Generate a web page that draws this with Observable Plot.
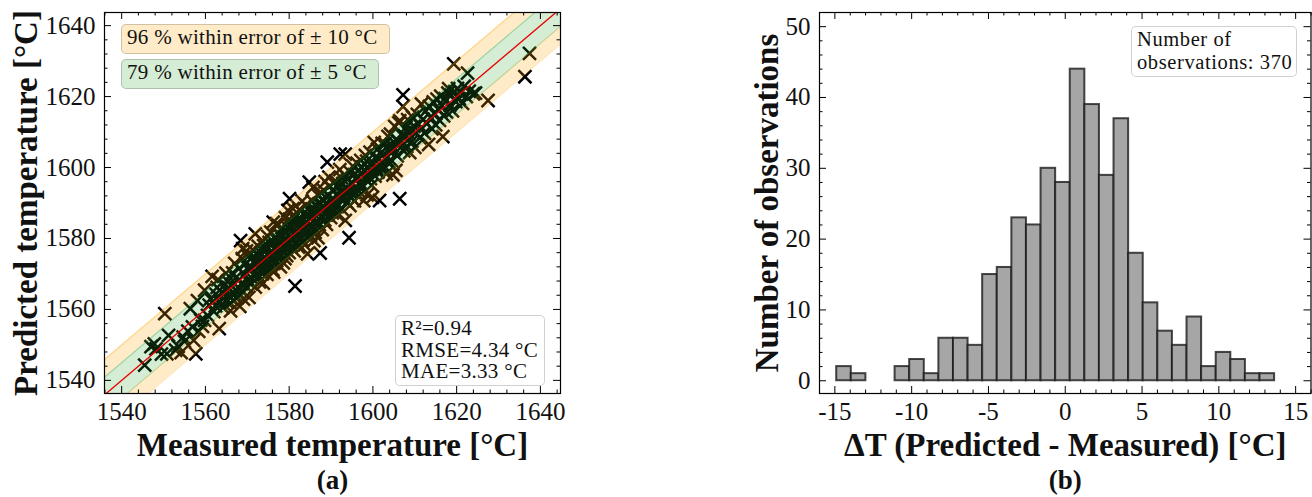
<!DOCTYPE html>
<html>
<head>
<meta charset="utf-8">
<script src="https://cdn.jsdelivr.net/npm/d3@7"></script>
<script src="https://cdn.jsdelivr.net/npm/@observablehq/plot@0.6"></script>
<style>
  body { margin: 0; background: #fff; }
  #fig { position: relative; width: 1312px; height: 497px; overflow: hidden; font-family: "Liberation Serif", serif; color: #111; }
  #fig svg { position: absolute; top: 0; overflow: visible; }
  .box { position: absolute; box-sizing: border-box; border: 1.5px solid rgba(0,0,0,0.18); border-radius: 5px; font-size: 21px; line-height: 21.5px; padding: 3px 0 0 5px; white-space: nowrap; letter-spacing: 0.3px; }
</style>
</head>
<body>
<div id="fig"></div>
<script>
// ---- Panel (a): measured vs predicted temperature, [measured, predicted] in °C ----
const measuredPredicted = [
  [1545.5,1544.3],[1547.8,1550.3],[1548.2,1548.9],[1547.0,1549.5],[1549.5,1547.4],[1550.3,1558.8],[1550.8,1547.5],
  [1551.2,1552.7],[1552.9,1548.5],[1553.5,1549.6],[1554.2,1547.8],[1554.7,1552.2],[1555.0,1551.0],[1555.8,1553.9],
  [1556.4,1560.2],[1556.9,1555.1],[1557.2,1551.3],[1557.7,1547.5],[1558.1,1562.5],[1558.4,1553.8],[1558.9,1557.0],
  [1559.3,1555.2],[1559.8,1565.4],[1559.8,1556.9],[1560.5,1558.3],[1560.9,1561.2],[1561.6,1569.3],[1561.2,1563.0],
  [1562.0,1559.4],[1562.4,1561.0],[1562.8,1566.2],[1563.3,1554.6],[1563.5,1562.1],[1563.9,1564.8],[1564.2,1560.5],
  [1564.6,1566.9],[1565.0,1565.4],[1565.0,1562.3],[1565.3,1568.0],[1565.7,1563.6],[1566.0,1561.8],[1566.2,1566.7],
  [1566.7,1562.5],[1566.5,1570.3],[1566.9,1564.4],[1567.2,1568.9],[1567.4,1563.1],[1567.8,1566.2],[1568.0,1571.5],
  [1568.4,1579.4],[1568.2,1560.9],[1568.6,1567.3],[1568.9,1577.1],[1569.0,1564.8],[1569.3,1569.9],[1569.5,1572.8],
  [1569.7,1566.5],[1570.0,1568.1],[1570.2,1574.9],[1570.4,1563.4],[1570.6,1570.8],[1570.9,1567.2],[1569.8,1576.5],
  [1567.0,1573.0],[1564.9,1570.2],[1563.0,1568.4],[1562.5,1564.3],[1566.0,1559.6],[1568.8,1574.3],[1567.6,1565.0],
  [1565.8,1565.9],[1569.1,1562.9],[1570.3,1572.0],
  [1571.0,1571.9],[1571.2,1568.7],[1571.5,1575.0],[1571.9,1581.3],[1571.9,1566.3],[1572.1,1573.4],[1572.3,1570.1],
  [1572.6,1577.8],[1572.8,1569.3],[1573.0,1572.2],[1573.2,1575.9],[1573.6,1579.4],[1573.6,1570.0],[1573.8,1567.4],
  [1574.0,1574.6],[1574.2,1571.8],[1574.5,1577.0],[1574.7,1569.9],[1574.9,1580.6],[1575.0,1573.3],[1575.3,1575.8],
  [1575.5,1571.6],[1575.7,1578.4],[1576.0,1574.2],[1576.2,1584.6],[1576.3,1570.5],[1576.6,1576.9],[1576.8,1579.8],
  [1577.0,1573.7],[1577.2,1577.5],[1577.5,1581.2],[1577.7,1574.9],[1577.9,1572.0],[1578.1,1578.6],[1578.3,1583.0],
  [1578.5,1576.1],[1578.8,1579.9],[1579.0,1574.3],[1579.2,1581.7],[1579.4,1577.7],[1579.7,1587.9],[1579.8,1579.1],
  [1580.0,1576.0],[1580.1,1591.2],[1580.2,1582.8],[1572.4,1575.5],[1573.4,1573.9],[1574.4,1572.5],[1575.2,1578.9],
  [1576.4,1573.0],[1577.4,1579.2],[1578.4,1580.5],[1579.4,1575.2],[1571.7,1573.2],[1572.9,1567.8],[1574.1,1576.2],
  [1575.9,1576.4],[1576.9,1575.0],[1578.0,1577.2],[1579.1,1585.9],[1577.0,1584.2],[1575.6,1581.8],[1573.9,1578.0],
  [1578.6,1573.1],[1576.1,1571.2],[1580.0,1585.4],[1571.3,1576.8],[1579.6,1583.2],[1577.8,1580.9],[1574.6,1574.0],
  [1580.4,1580.2],[1580.6,1577.9],[1580.8,1584.4],[1581.0,1581.3],[1581.2,1576.5],[1581.4,1566.6],[1581.5,1586.2],
  [1581.7,1582.0],[1581.9,1578.8],[1582.1,1583.7],[1582.2,1577.6],[1582.4,1588.1],[1582.6,1580.4],[1582.8,1585.3],
  [1583.0,1582.1],[1583.2,1579.3],[1583.4,1587.0],[1583.6,1583.8],[1583.8,1581.0],[1584.0,1589.4],[1584.2,1584.6],
  [1584.4,1575.7],[1584.5,1582.4],[1584.8,1595.9],[1584.9,1587.6],[1585.1,1580.9],[1585.3,1585.7],[1585.5,1590.6],
  [1585.7,1594.4],[1585.8,1583.2],[1586.0,1586.9],[1586.2,1581.7],[1586.4,1589.1],[1586.6,1585.0],[1586.8,1592.3],
  [1587.0,1587.4],[1587.2,1583.9],[1587.4,1575.9],[1587.5,1590.0],[1587.7,1586.3],[1587.9,1582.5],[1588.1,1588.7],
  [1588.3,1593.5],[1588.5,1585.2],[1588.7,1589.9],[1588.9,1584.0],[1589.1,1601.5],[1589.2,1587.5],[1589.4,1592.0],
  [1589.5,1597.3],[1589.7,1589.1],[1589.9,1585.9],[1580.3,1583.6],[1581.1,1579.7],[1582.0,1585.0],[1582.9,1583.4],
  [1583.7,1578.2],[1584.6,1586.5],[1585.4,1588.3],[1586.3,1584.1],[1587.1,1589.8],[1588.0,1591.1],[1588.8,1586.8],
  [1589.6,1594.7],[1583.1,1590.5],[1585.9,1579.4],[1587.6,1592.9],[1581.8,1584.8],[1584.1,1583.0],[1586.5,1587.7],
  [1588.4,1587.0],[1582.5,1582.7],[1580.9,1588.4],[1586.9,1580.2],[1588.6,1596.0],
  [1590.1,1590.4],[1590.3,1587.2],[1590.5,1593.8],[1590.7,1591.0],[1590.9,1588.8],[1591.1,1596.2],[1591.3,1592.4],
  [1591.5,1589.0],[1591.7,1594.9],[1591.9,1591.6],[1592.1,1599.4],[1592.2,1603.8],[1592.4,1593.1],[1592.6,1588.3],
  [1592.8,1595.5],[1593.0,1592.0],[1593.2,1597.9],[1593.4,1603.8],[1593.4,1585.1],[1593.6,1594.0],[1593.8,1590.2],
  [1594.0,1596.8],[1594.3,1580.2],[1594.4,1593.3],[1594.6,1598.6],[1594.8,1591.5],[1595.0,1595.3],[1595.2,1600.4],
  [1595.4,1593.0],[1595.6,1590.6],[1595.8,1596.9],[1596.0,1594.1],[1596.2,1601.2],[1596.5,1597.4],[1596.7,1591.9],
  [1596.9,1595.8],[1597.1,1602.0],[1597.3,1598.5],[1597.5,1594.4],[1597.8,1590.7],[1598.0,1599.1],[1598.2,1603.4],
  [1598.4,1596.5],[1598.6,1592.3],[1598.8,1600.2],[1599.0,1597.4],[1599.3,1604.3],[1599.5,1598.9],[1599.7,1595.0],
  [1599.9,1591.6],[1590.6,1595.7],[1591.6,1586.6],[1592.5,1597.1],[1593.5,1592.8],[1594.5,1589.3],[1595.5,1598.0],
  [1596.4,1593.6],[1597.4,1600.1],[1598.5,1601.8],[1599.4,1596.9],
  [1600.1,1601.2],[1600.3,1607.1],[1600.5,1597.6],[1600.7,1603.0],[1600.9,1599.8],[1601.1,1605.2],[1601.2,1598.7],
  [1601.4,1602.5],[1601.6,1590.7],[1601.8,1604.0],[1602.0,1600.3],[1602.2,1606.8],[1602.4,1603.5],[1602.6,1599.5],
  [1602.9,1606.7],[1603.0,1602.4],[1603.2,1598.2],[1603.4,1605.9],[1603.6,1608.8],[1603.8,1601.7],[1604.0,1604.5],
  [1604.2,1609.4],[1604.4,1602.0],[1604.6,1606.2],[1604.8,1597.9],[1605.0,1605.0],[1605.2,1611.6],[1605.5,1599.2],
  [1605.6,1608.0],[1605.8,1603.3],[1606.0,1607.4],[1606.2,1612.6],[1606.4,1591.2],[1606.4,1613.2],[1606.6,1605.6],
  [1606.9,1609.1],[1607.2,1620.5],[1607.2,1617.2],[1607.4,1604.7],[1607.6,1608.9],[1607.9,1611.3],[1608.1,1606.0],
  [1608.3,1613.5],[1608.6,1609.6],[1608.8,1604.2],[1609.0,1610.9],[1609.3,1607.4],[1609.5,1614.2],[1609.8,1611.6],
  [1610.0,1605.7],[1610.3,1609.8],[1610.6,1615.0],[1610.9,1612.2],[1611.2,1608.4],[1611.6,1617.9],
  [1612.0,1613.6],[1612.3,1609.7],[1612.6,1615.9],[1612.9,1612.4],[1613.3,1606.5],[1613.5,1617.2],[1613.8,1614.1],
  [1614.1,1610.9],[1614.4,1618.5],[1614.7,1615.2],[1615.0,1612.0],[1615.3,1619.3],[1615.6,1616.4],[1615.9,1613.3],
  [1616.2,1620.1],[1616.5,1617.5],[1616.7,1608.7],[1616.9,1614.6],[1617.2,1619.4],[1617.6,1615.6],[1617.9,1621.0],
  [1618.1,1622.2],[1618.4,1617.6],[1618.7,1620.4],[1619.0,1616.0],[1619.3,1629.2],[1619.5,1621.4],[1619.8,1618.6],
  [1620.2,1622.3],[1620.6,1619.4],[1621.0,1621.1],[1621.4,1618.1],[1621.8,1622.9],[1622.6,1626.6],[1622.3,1620.0],
  [1623.0,1621.5],[1624.0,1620.8],[1624.5,1621.0],[1627.5,1618.9],[1636.3,1625.6],[1637.4,1632.2]
];
const tempDomainX = [1535.9, 1644.8];
const tempDomainY = [1536.3, 1643.7];
const tempTicks = [1540, 1560, 1580, 1600, 1620, 1640];
const errorBands = [10, 5];                 // ± °C
const withinShare = [96, 79];               // % of observations inside each band
const metrics = [["R²", "0.94", ""], ["RMSE", "4.34", " °C"], ["MAE", "3.33", " °C"]];

// ---- Panel (b): histogram of ΔT = predicted − measured ----
const deltaRange = [-14.88, 13.63];
const binCounts = [2, 1, 0, 0, 2, 3, 1, 6, 6, 5, 15, 16, 23, 22, 30, 28, 44, 39, 29, 37, 18, 11, 7, 5, 9, 2, 4, 3, 1, 1];
const deltaDomain = [-16, 16];
const countDomain = [-1.8, 52];
const deltaTicks = [-15, -10, -5, 0, 5, 10, 15];
const countTicks = [0, 10, 20, 30, 40, 50];
const observationCount = 370;

const FONT = "'Liberation Serif', serif";
const fig = document.getElementById("fig");

// minor ticks between majors
function minors(majors, step, domain) {
  const out = [];
  const start = Math.ceil(domain[0] / step) * step;
  for (let v = start; v <= domain[1] + 1e-9; v += step) {
    const r = Math.round(v * 1000) / 1000;
    if (!majors.includes(r)) out.push(r);
  }
  return out;
}

// inward ticks on all four sides of the frame
function frameTicks(xMaj, xMin, yMaj, yMin, iw, ih) {
  const big = 7, small = 3.5, s = {stroke: "#000", strokeWidth: 1};
  return [
    Plot.ruleX(xMaj, {...s, insetTop: ih - big}),
    Plot.ruleX(xMaj, {...s, insetBottom: ih - big}),
    Plot.ruleX(xMin, {...s, insetTop: ih - small}),
    Plot.ruleX(xMin, {...s, insetBottom: ih - small}),
    Plot.ruleY(yMaj, {...s, insetRight: iw - big}),
    Plot.ruleY(yMaj, {...s, insetLeft: iw - big}),
    Plot.ruleY(yMin, {...s, insetRight: iw - small}),
    Plot.ruleY(yMin, {...s, insetLeft: iw - small})
  ];
}

const fmt = d => String(d);
const titleStyle = {lineAnchor: "bottom", textAnchor: "middle", fontSize: 33, fontWeight: "bold", fill: "#111"};

// ---------------- Panel (a) ----------------
{
  const W = 656, H = 497, mL = 104, mR = 96, mT = 12, mB = 104;
  const iw = W - mL - mR, ih = H - mT - mB;
  const pts = measuredPredicted.map(([m, p]) => ({m, p}));
  const [outer, inner] = errorBands;
  const edge = tempDomainX;

  const chart = Plot.plot({
    width: W, height: H,
    marginLeft: mL, marginRight: mR, marginTop: mT, marginBottom: mB,
    x: {domain: tempDomainX},
    y: {domain: tempDomainY},
    style: {fontFamily: FONT, fontSize: "24px", color: "#111", background: "transparent"},
    marks: [
      Plot.dot(pts, {x: "m", y: "p", symbol: "times", r: 6, stroke: "#000", strokeWidth: 2.5, clip: true}),
      // ±10 °C strips
      Plot.areaY(edge, {x: d => d, y1: d => d + inner, y2: d => d + outer, fill: "#ffa500", fillOpacity: 0.22, clip: true}),
      Plot.areaY(edge, {x: d => d, y1: d => d - outer, y2: d => d - inner, fill: "#ffa500", fillOpacity: 0.22, clip: true}),
      // ±5 °C strip
      Plot.areaY(edge, {x: d => d, y1: d => d - inner, y2: d => d + inner, fill: "#2ca02c", fillOpacity: 0.2, clip: true}),
      Plot.line(edge, {x: d => d, y: d => d + outer, stroke: "#ffa500", strokeOpacity: 0.3, strokeWidth: 1.2, clip: true}),
      Plot.line(edge, {x: d => d, y: d => d - outer, stroke: "#ffa500", strokeOpacity: 0.3, strokeWidth: 1.2, clip: true}),
      Plot.line(edge, {x: d => d, y: d => d + inner, stroke: "#2ca02c", strokeOpacity: 0.3, strokeWidth: 1.2, clip: true}),
      Plot.line(edge, {x: d => d, y: d => d - inner, stroke: "#2ca02c", strokeOpacity: 0.3, strokeWidth: 1.2, clip: true}),
      // identity line
      Plot.line(edge, {x: d => d, y: d => d, stroke: "#e80000", strokeWidth: 1.3, clip: true}),
      ...frameTicks(tempTicks, minors(tempTicks, 4, tempDomainX), tempTicks, minors(tempTicks, 4, tempDomainY), iw, ih),
      Plot.axisX({ticks: tempTicks, tickSize: 0, tickPadding: 9, tickFormat: fmt, label: null, fontSize: 25}),
      Plot.axisY({ticks: tempTicks, tickSize: 0, tickPadding: 9, tickFormat: fmt, label: null, fontSize: 25}),
      Plot.frame({stroke: "#000", strokeWidth: 1.2}),
      Plot.text(["Measured temperature [°C]"], {...titleStyle, frameAnchor: "bottom", dy: 62}),
      Plot.text(["Predicted temperature [°C]"], {...titleStyle, frameAnchor: "left", dx: -68, rotate: -90}),
      Plot.text(["(a)"], {...titleStyle, frameAnchor: "bottom", dy: 95, fontSize: 27})
    ]
  });
  chart.style.left = "0px";
  fig.appendChild(chart);

  const b1 = document.createElement("div");
  b1.className = "box";
  Object.assign(b1.style, {left: "121px", top: "24px", width: "269px", height: "30px", background: "rgba(255,165,0,0.22)", paddingTop: "2px"});
  b1.textContent = `${withinShare[0]} % within error of ± ${outer} °C`;
  const b2 = document.createElement("div");
  b2.className = "box";
  Object.assign(b2.style, {left: "121px", top: "59px", width: "258px", height: "30px", background: "rgba(44,160,44,0.2)", paddingTop: "2px"});
  b2.textContent = `${withinShare[1]} % within error of ± ${inner} °C`;
  const b3 = document.createElement("div");
  b3.className = "box";
  Object.assign(b3.style, {left: "395px", top: "315px", width: "150px", height: "71px", background: "rgba(255,255,255,0.85)", paddingTop: "2px"});
  b3.innerHTML = metrics.map(([k, v, u]) => `${k}=${v}${u}`).join("<br>");
  fig.append(b1, b2, b3);
}

// ---------------- Panel (b) ----------------
{
  const W = 656, H = 497, mL = 163, mR = 1.5, mT = 12, mB = 104;
  const iw = W - mL - mR, ih = H - mT - mB;
  const n = binCounts.length;
  const w = (deltaRange[1] - deltaRange[0]) / n;
  const bins = binCounts.map((c, i) => ({x1: deltaRange[0] + i * w, x2: deltaRange[0] + (i + 1) * w, count: c}));

  const chart = Plot.plot({
    width: W, height: H,
    marginLeft: mL, marginRight: mR, marginTop: mT, marginBottom: mB,
    x: {domain: deltaDomain},
    y: {domain: countDomain},
    style: {fontFamily: FONT, fontSize: "24px", color: "#111", background: "transparent"},
    marks: [
      Plot.rect(bins, {x1: "x1", x2: "x2", y1: 0, y2: "count", fill: "#a6a6a6", stroke: "#1a1a1a", strokeOpacity: 0.8, strokeWidth: 2}),
      ...frameTicks(deltaTicks, minors(deltaTicks, 1, deltaDomain), countTicks, minors(countTicks, 2, countDomain), iw, ih),
      Plot.axisX({ticks: deltaTicks, tickSize: 0, tickPadding: 9, tickFormat: fmt, label: null, fontSize: 25}),
      Plot.axisY({ticks: countTicks, tickSize: 0, tickPadding: 9, tickFormat: fmt, label: null, fontSize: 25}),
      Plot.frame({stroke: "#000", strokeWidth: 1.2}),
      Plot.text(["ΔT (Predicted - Measured) [°C]"], {...titleStyle, frameAnchor: "bottom", dy: 62}),
      Plot.text(["Number of observations"], {...titleStyle, frameAnchor: "left", dx: -42, rotate: -90}),
      Plot.text(["(b)"], {...titleStyle, frameAnchor: "bottom", dy: 95, fontSize: 27})
    ]
  });
  chart.style.left = "656px";
  fig.appendChild(chart);

  const b4 = document.createElement("div");
  b4.className = "box";
  Object.assign(b4.style, {left: "1131px", top: "26px", width: "166px", height: "51px", background: "rgba(255,255,255,0.85)", lineHeight: "22.5px", paddingTop: "1px", fontSize: "20.5px", letterSpacing: "0.6px"});
  b4.innerHTML = `Number of<br>observations: ${observationCount}`;
  fig.append(b4);
}
</script>
</body>
</html>
